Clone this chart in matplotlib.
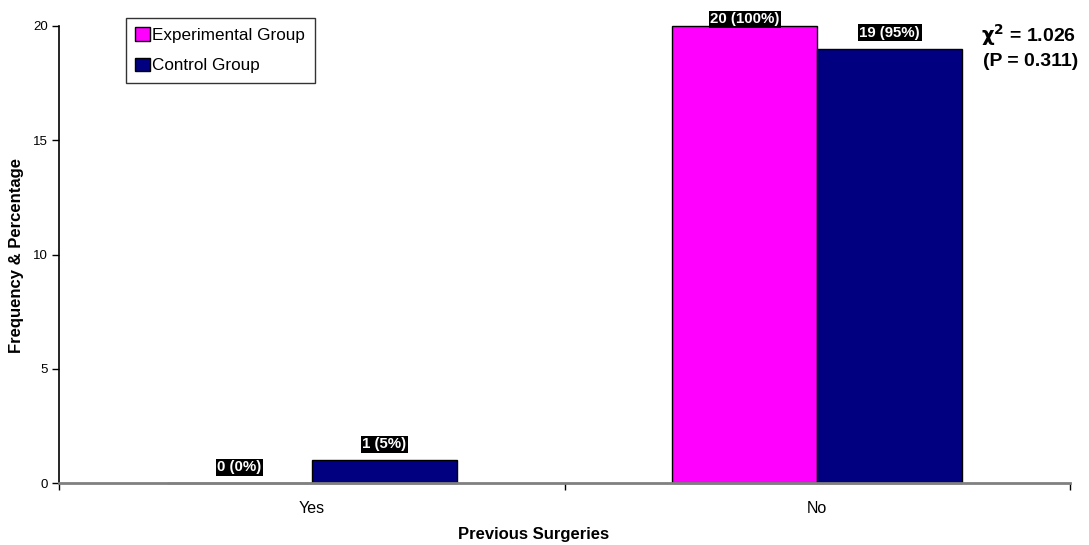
import numpy as np
import matplotlib
matplotlib.use("Agg")
import matplotlib.pyplot as plt

plt.rcParams['font.family'] = ['Liberation Sans', 'DejaVu Sans']

categories = ["Yes", "No"]
experimental = [0, 20]
control = [1, 19]
exp_labels = ["0 (0%)", "20 (100%)"]
ctrl_labels = ["1 (5%)", "19 (95%)"]
y_ticks = [0, 5, 10, 15, 20]

fig = plt.figure(figsize=(10.89, 5.45), dpi=100)
ax = fig.add_axes([59 / 1089, 1 - 483 / 545, (1070 - 59) / 1089, (483 - 26) / 545])

x = np.arange(len(categories))
w = 0.287
ax.bar(x - w / 2, experimental, w, color="#FF00FF", edgecolor="black", linewidth=1,
       label="Experimental Group", clip_on=False, zorder=3)
ax.bar(x + w / 2, control, w, color="#000080", edgecolor="black", linewidth=1,
       label="Control Group", clip_on=False, zorder=3)

ymax = 20
for xs, vals, labs in [(x - w / 2, experimental, exp_labels), (x + w / 2, control, ctrl_labels)]:
    for xi, v, lab in zip(xs, vals, labs):
        off = 11.5 if v < ymax else 5
        ax.annotate(lab, (xi, v), xytext=(0, off), textcoords="offset points",
                    ha="center", va="center", color="white", fontsize=10.8, fontweight="bold",
                    bbox=dict(boxstyle="square,pad=0.1", fc="black", ec="none"), zorder=5,
                    annotation_clip=False)

ax.set_xlim(-0.5, 1.5)
ax.set_ylim(0, ymax)
ax.set_yticks(y_ticks)
ax.set_xticks(x)
ax.set_xticklabels(categories, fontsize=11.5)
ax.set_xticks([-0.5, 0.5, 1.5], minor=True)
ax.tick_params(axis="x", which="major", length=0, pad=13)
ax.tick_params(axis="x", which="minor", length=5, width=1, color="black", direction="out")
ax.tick_params(axis="y", labelsize=9.5, length=5, width=1, direction="out", pad=3)

for s in ["top", "right"]:
    ax.spines[s].set_visible(False)
ax.spines["left"].set_color("black")
ax.spines["left"].set_linewidth(1.2)
ax.spines["bottom"].set_color("#808080")
ax.spines["bottom"].set_linewidth(2)
ax.spines["bottom"].set_zorder(4)

fig.text(17 / 1089, 1 - 255 / 545, "Frequency & Percentage", rotation=90,
         ha="center", va="center", fontsize=12, fontweight="bold")
fig.text(534 / 1089, 1 - 535 / 545, "Previous Surgeries",
         ha="center", va="center", fontsize=12, fontweight="bold")

fig.text(1029 / 1089, 1 - 35 / 545, r"$\mathbf{\chi}^{\mathbf{2}}$ = 1.026",
         ha="center", va="center", fontsize=14, fontweight="bold")
fig.text(1031 / 1089, 1 - 61 / 545, "(P = 0.311)",
         ha="center", va="center", fontsize=14, fontweight="bold")

leg = ax.legend(loc="upper left", bbox_to_anchor=((126 - 59) / 1011, (483 - 18) / 457),
                frameon=True, fancybox=False, fontsize=12.3, handlelength=0.85, handleheight=0.85,
                handletextpad=0.15, borderpad=0.55, labelspacing=0.85, borderaxespad=0)
leg.get_frame().set_edgecolor("black")
leg.get_frame().set_linewidth(1)

fig.savefig("out.png", dpi=100)
